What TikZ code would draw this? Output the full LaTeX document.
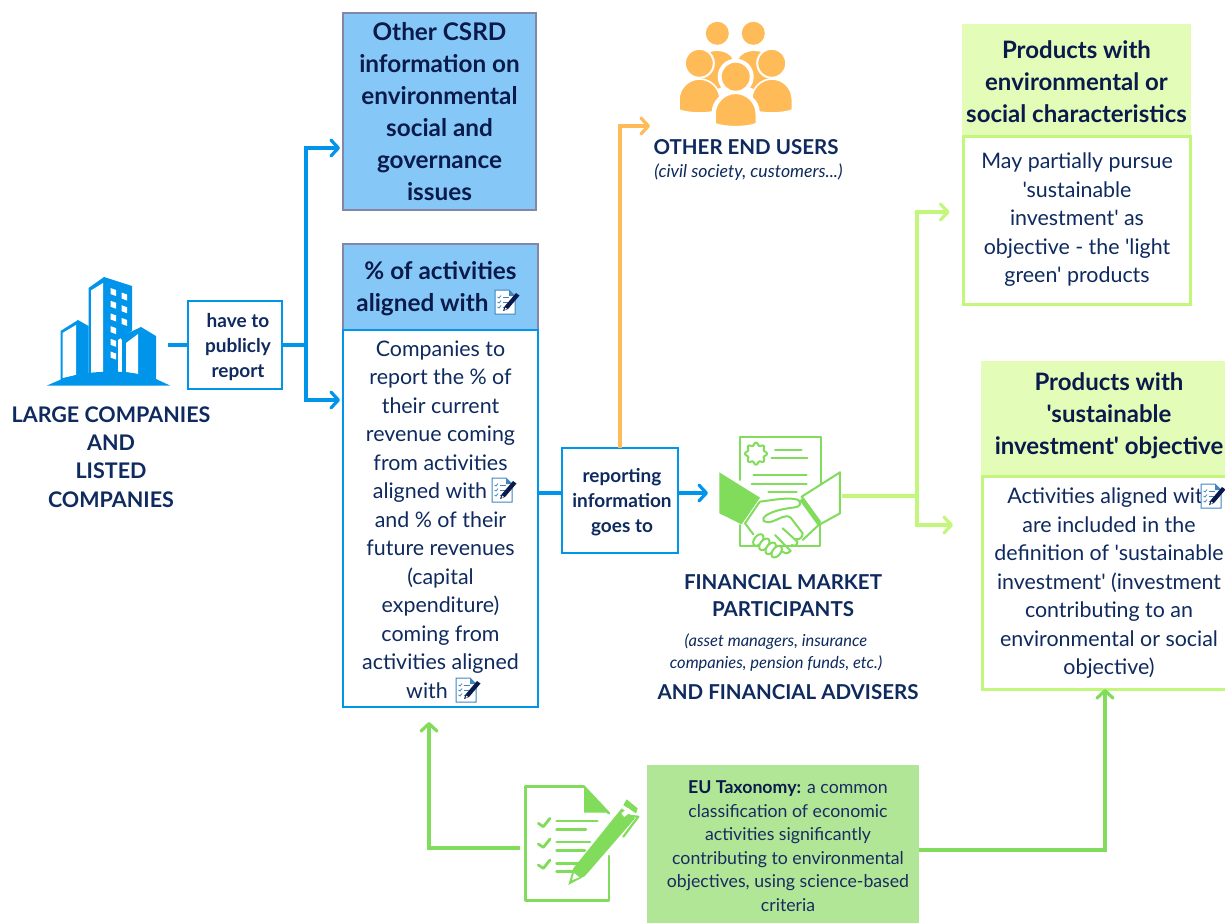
\documentclass[tikz,border=0pt]{standalone}
\usepackage{fontspec}
\setmainfont{Lato}[Ligatures=TeXOff]
\usetikzlibrary{arrows.meta}
\definecolor{navy}{HTML}{0E2A5E}
\definecolor{ink}{HTML}{0A1A4A}
\definecolor{taxtext}{HTML}{1A2A62}
\definecolor{bluel}{HTML}{0095EA}
\definecolor{sky}{HTML}{85C8F8}
\definecolor{greyb}{HTML}{8585A8}
\definecolor{amber}{HTML}{FFBB57}
\definecolor{lime}{HTML}{C3F77C}
\definecolor{limepale}{HTML}{E3FCB8}
\definecolor{leaf}{HTML}{80DC5A}
\definecolor{taxo}{HTML}{B0E695}
\definecolor{note}{HTML}{3F86BE}
\newcommand{\fs}[2]{\fontsize{#1}{#2}\selectfont}
\newcommand{\gap}[1]{\rule{#1}{0pt}}
\newcommand{\dome}[4]{% x0 x1 ytop ybot
  \pgfmathsetmacro{\xc}{(#1+#2)/2}\pgfmathsetmacro{\wdt}{(#2-#1)/2}
  \path[fill=amber,draw=white,line width=1.6pt]
   (#1,#4-3) -- (#1,#3+\wdt)
   .. controls (#1,#3+.45*\wdt) and (\xc-.55*\wdt,#3) .. (\xc,#3)
   .. controls (\xc+.55*\wdt,#3) and (#2,#3+.45*\wdt) .. (#2,#3+\wdt)
   -- (#2,#4-3) .. controls (\xc+.5*\wdt,#4+1) and (\xc-.5*\wdt,#4+1) .. (#1,#4-3) -- cycle;}
\tikzset{
  x=1pt,y=-1pt,
  basebox/.style={inner sep=0pt,align=center,anchor=center,outer sep=0pt},
  csrdbox/.style={basebox,draw=greyb,fill=sky,line width=2pt,text=ink,font=\bfseries\fs{24.3}{32}},
  bluebody/.style={basebox,draw=bluel,fill=white,line width=2.5pt,text=navy,font=\fs{21.4}{28.5}},
  smallbox/.style={basebox,draw=bluel,fill=white,line width=2.5pt,text=navy,font=\bfseries\fs{19}{25}},
  prodhead/.style={basebox,fill=limepale,text=ink,font=\bfseries\fs{24}{32}},
  prodbody/.style={basebox,draw=lime,fill=white,line width=3pt,text=navy,font=\fs{21.4}{28.5}},
  taxobox/.style={basebox,fill=taxo,text=taxtext,font=\fs{17.7}{23.6}},
  biglabel/.style={basebox,text=navy,font=\bfseries\fs{20.5}{28.2}},
  sublabel/.style={basebox,text=navy,font=\itshape\fs{16.5}{22}},
  iconbox/.style={inner sep=0pt,outer sep=0pt,draw=none},
  conn/.style={line width=3.5pt,line join=miter},
  tipped/.style={conn,-{Straight Barb[length=7.5pt,width=16pt,line width=3.2pt,round]}},
  noteicon/.pic={
    \draw[note,line width=1pt,fill=white] (0,0) -- (14,0) -- (20,6) -- (20,24) -- (0,24) -- cycle;
    \fill[note] (14,0) -- (14,6) -- (20,6) -- cycle;
    \foreach \yy in {7,12,17}{
      \draw[note,line width=.8pt] (2.5,\yy) -- (4,\yy+1) -- (6,\yy-1.5);
      \draw[note,line width=.8pt] (7.5,\yy) -- (14,\yy);}
    \fill[ink] (8,21) -- (9.5,16.5) -- (21,3) -- (24.5,5.5) -- (13,19) -- cycle;
    \fill[white] (9.6,20) -- (10.4,17.6) -- (12,18.9) -- cycle;
  },
}
\begin{document}
\begin{tikzpicture}
\path[use as bounding box,fill=white] (0,0) rectangle (1225,922);

% ---- boxes
\node[csrdbox,minimum width=193pt,minimum height=197pt] (csrd) at (439.5,111.5)
 {Other CSRD\\information on\\environmental\\social and\\governance\\issues};
\node[csrdbox,minimum width=195pt,minimum height=86pt] (hdr) at (440.5,287)
 {\rule{0pt}{22pt}\% of activities\\aligned with\gap{36pt}};
\node[bluebody,minimum width=195pt,minimum height=377pt] (body) at (440.5,518.5)
 {\rule{0pt}{18pt}Companies to\\report the \% of\\their current\\revenue coming\\from activities\\aligned with\gap{21pt}\\and \% of their\\future revenues\\(capital\\expenditure)\\coming from\\activities aligned\\with\gap{27pt}};
\node[smallbox,minimum width=94pt,minimum height=88pt] (report) at (235,345)
 {\rule{0pt}{18pt}\hspace*{6pt}have to\\\hspace*{6pt}publicly\\\hspace*{6pt}report};
\node[smallbox,minimum width=116pt,minimum height=105pt] (goes) at (620,500.5)
 {\rule{0pt}{18pt}\hspace*{4pt}reporting\\\hspace*{4pt}information\\\hspace*{4pt}goes to};
\node[prodhead,minimum width=229pt,minimum height=112pt] (p1h) at (1076.5,80)
 {\rule{0pt}{22pt}Products with\\environmental or\\social characteristics};
\node[prodbody,minimum width=227pt,minimum height=168pt] (p1b) at (1077,220)
 {May partially pursue\\'sustainable\\investment' as\\objective - the 'light\\green' products};
\node[prodhead,minimum width=256pt,minimum height=115pt] (p2h) at (1109,418.5)
 {Products with\\'sustainable\\investment' objective\rule[-9pt]{0pt}{1pt}};
\node[prodbody,minimum width=254pt,minimum height=213pt] (p2b) at (1109,582.5)
 {\rule{0pt}{17pt}\hspace*{4pt}Activities aligned with\\are included in the\\definition of 'sustainable\\investment' (investment\\contributing to an\\environmental or social\\objective)};
\node[taxobox,minimum width=272pt,minimum height=160pt] (tax) at (783,845)
 {\rule{0pt}{15pt}\hspace*{10pt}\textcolor{ink}{\textbf{EU Taxonomy:}} a common\\\hspace*{10pt}classification of economic\\\hspace*{10pt}activities significantly\\\hspace*{10pt}contributing to environmental\\\hspace*{10pt}objectives, using science-based\\\hspace*{10pt}criteria};

% ---- labels
\node[biglabel,font=\bfseries\fs{21.5}{28.4}] (large) at (111,457) {LARGE COMPANIES\\AND\\LISTED\\COMPANIES};
\node[biglabel] (users) at (746,147) {OTHER END USERS};
\node[sublabel,font=\itshape\fs{17.7}{22}] (civil) at (748.5,172) {(civil society, customers...)};
\node[biglabel,font=\bfseries\fs{20.5}{27}] (fmp) at (783,596) {FINANCIAL MARKET\\PARTICIPANTS};
\node[sublabel] (asset) at (776,653) {(asset managers, insurance\\companies, pension funds, etc.)};
\node[biglabel] (adv) at (788,692) {AND FINANCIAL ADVISERS};

% ---- inline notes
\pic at (495,290) {noteicon};
\pic at (492,478) {noteicon};
\pic at (456,678) {noteicon};
\pic at (1201,484) {noteicon};

% ---- anchors for the icons
\node[iconbox,minimum width=124pt,minimum height=108pt] (bldg) at (108,332) {};
\node[iconbox,minimum width=114pt,minimum height=106pt] (people) at (736,73) {};
\node[iconbox,minimum width=122pt,minimum height=118pt] (hands) at (780,497) {};
\node[iconbox,minimum width=116pt,minimum height=116pt] (check) at (580,844) {};

% ---- building
\fill[bluel] (104,277) -- (132,286) -- (132,376) -- (88.5,376) -- (88.5,288) -- cycle;
\fill[white] (91,290.5) -- (103,283) -- (103,373) -- (91,373) -- cycle;
\foreach \r in {0,...,5}{\fill[white,shift={(0,12.7*\r)}] (110.5,288) -- (116,290) -- (116,296) -- (110.5,294) -- cycle;}
\foreach \r in {0,...,2}{\fill[white,shift={(0,12.7*\r)}] (121.5,292.5) -- (127,294.5) -- (127,300.5) -- (121.5,298.5) -- cycle;}
\fill[bluel] (60.5,331) -- (78,320) -- (88.5,326) -- (88.5,380) -- (60.5,380) -- cycle;
\fill[white] (62.5,333) -- (76,325) -- (76,375) -- (62.5,378) -- cycle;
\fill[white] (118,340) -- (141,325) -- (141,376) -- (118,376) -- cycle;
\fill[bluel] (120,337) -- (141,327) -- (156,336) -- (156,385) -- (120,385) -- (120,372) -- (122,372) -- (122,340) -- cycle;
\fill[white] (126,343) -- (138,334) -- (138,374) -- (126,372) -- cycle;
\fill[bluel] (47,385.5) -- (62,379) -- (76,375) .. controls (90,372) and (110,371) .. (124,372) -- (138,374) -- (156,379) -- (170,385.5) -- cycle;

% ---- people
\fill[amber] (697,76) -- (700,60) .. controls (706,48) and (728,48) .. (733,60) -- (738,80) -- (715,90) -- cycle;
\fill[amber] (774,76) -- (771,60) .. controls (765,48) and (743,48) .. (738,60) -- (733,80) -- (756,90) -- cycle;
\fill[amber] (717.3,33.3) circle (11.5);
\fill[amber] (753.3,33.3) circle (11.5);
\dome{679}{720}{79}{113}
\dome{751.7}{792.3}{79}{113}
\path[fill=amber,draw=white,line width=2pt] (699.3,63.3) circle (14.5);
\path[fill=amber,draw=white,line width=2pt] (771.7,63.3) circle (14.5);
\path[fill=white] (735.7,76.7) circle (18);
\path[fill=white] (735.7,112) ellipse (24 and 21);
\fill[amber] (735.7,76.7) circle (14);
\dome{715}{756.3}{93.3}{126.7}

% ---- handshake
\begin{scope}[shift={(700pt,-425pt)},x=.3333pt,y=-.3333pt,leaf,line width=2pt,line cap=round,line join=round]
 \draw (120,165) -- (120,36) -- (362,36) -- (362,190);
 \draw plot[domain=0:360,samples=73,smooth] ({168+(29+4*cos(8*\x))*cos(\x)},{86+(29+4*cos(8*\x))*sin(\x)});
 \draw (225,76) -- (305,76) (215,100) -- (322,100) (160,149) -- (320,149) (155,176) -- (320,176) (205,200) -- (290,200);
 \fill[white] (125,215) rectangle (350,362);
 \draw (120,300) -- (120,362) -- (360,362) -- (360,300);
 \fill (58,142) -- (180,218) -- (125,298) -- (58,265) -- cycle;
 \draw[fill=white] (420,142) -- (305,215) -- (360,298) -- (420,265) -- cycle;
 \draw[line width=5pt,line cap=butt] (305,222) -- (358,295);
 \draw (178,232) -- (135,295) -- (160,328);
 \draw (180,230) .. controls (220,225) and (270,215) .. (295,225) .. controls (305,235) and (300,245) .. (285,247) .. controls (260,250) and (225,255) .. (200,270) .. controls (180,285) and (190,295) .. (215,290) .. controls (235,285) and (255,265) .. (272,278) -- (308,325) .. controls (308,340) and (295,345) .. (288,342);
 \draw (248,310) -- (292,350) .. controls (293,360) and (285,365) .. (275,360);
 \draw (225,330) -- (272,378) .. controls (268,385) and (258,388) .. (248,380);
 \draw (358,298) -- (308,345);
 \foreach \cx/\cy in {175/345,193/358,212/370,230/380}{
   \draw[fill=white,rotate around={52:(\cx,\cy)}] (\cx,\cy) ellipse (20*.3333pt and 12*.3333pt);}
\end{scope}

% ---- checklist and pen
\begin{scope}[shift={(510pt,-770pt)},x=.3333pt,y=-.3333pt,leaf,line cap=round,line join=round]
 \draw[line width=2.8pt] (222,50) -- (47,50) -- (47,392) -- (297,392) -- (297,258);
 \draw[line width=2.5pt] (222,50) -- (297,130);
 \fill (222,55) -- (222,128) -- (296,128) -- cycle;
 \foreach \yy in {0,62,125}{
   \draw[line width=2.8pt] (85,160+\yy) -- (100,170+\yy) -- (120,145+\yy);}
 \draw[line width=2.8pt] (140,153) -- (262,153) (140,178) -- (228,178) (140,216) -- (240,216) (140,241) -- (225,241) (140,280) -- (205,280) (140,305) -- (190,305);
 \fill (175,345) -- (190,295) -- (335,115) -- (375,145) -- (225,318) -- cycle;
 \fill[white] (186,330) -- (192,309) -- (208,322) -- cycle;
 \fill (340,105) -- (350,88) -- (383,115) -- (378,130) -- cycle;
 \fill[white,rotate around={37:(348,128)}] (336,121) rectangle (362,135);
 \draw[line width=2.2pt] (362,138) -- (385,140) -- (340,200);
\end{scope}

% ---- connectors
\coordinate (stubL) at (168,345);
\coordinate (bus) at (306,345);
\coordinate (csrdY) at (306,148);
\coordinate (bodyY) at (306,400);
\coordinate (goesY) at (0,493);
\coordinate (handL) at (708,493);
\coordinate (handR) at (842,496);
\coordinate (split) at (917,496);
\coordinate (p1Y) at (917,212);
\coordinate (p2Y) at (917,525);
\coordinate (usersEnd) at (650,126);
\coordinate (checkEnd) at (520,848);
\coordinate (taxStart) at (919,850);
\coordinate (p2X) at (1105,850);

\draw[conn,bluel] (stubL) -- (report.west);
\draw[conn,bluel] (report.east) -- (bus);
\draw[tipped,bluel] (bus) -- (csrdY) -- ([xshift=-3pt]csrd.west |- csrdY);
\draw[tipped,bluel] (bus) -- (bodyY) -- ([xshift=-3pt]body.west |- bodyY);
\draw[conn,bluel] (body.east |- goesY) -- (goes.west |- goesY);
\draw[tipped,bluel] (goes.east |- goesY) -- (handL);
\draw[tipped,amber] (goes.north) |- (usersEnd);
\draw[conn,lime] (handR) -- (split);
\draw[tipped,lime] (split) -- (p1Y) -- ([xshift=-14pt]p1b.west |- p1Y);
\draw[tipped,lime] (split) -- (p2Y) -- ([xshift=-29pt]p2b.west |- p2Y);
\draw[tipped,leaf] (checkEnd) -| ([yshift=-15pt]body.south -| 429,0);
\draw[tipped,leaf] (taxStart) -- (p2X) -- (p2X |- p2b.south);
\end{tikzpicture}
\end{document}
